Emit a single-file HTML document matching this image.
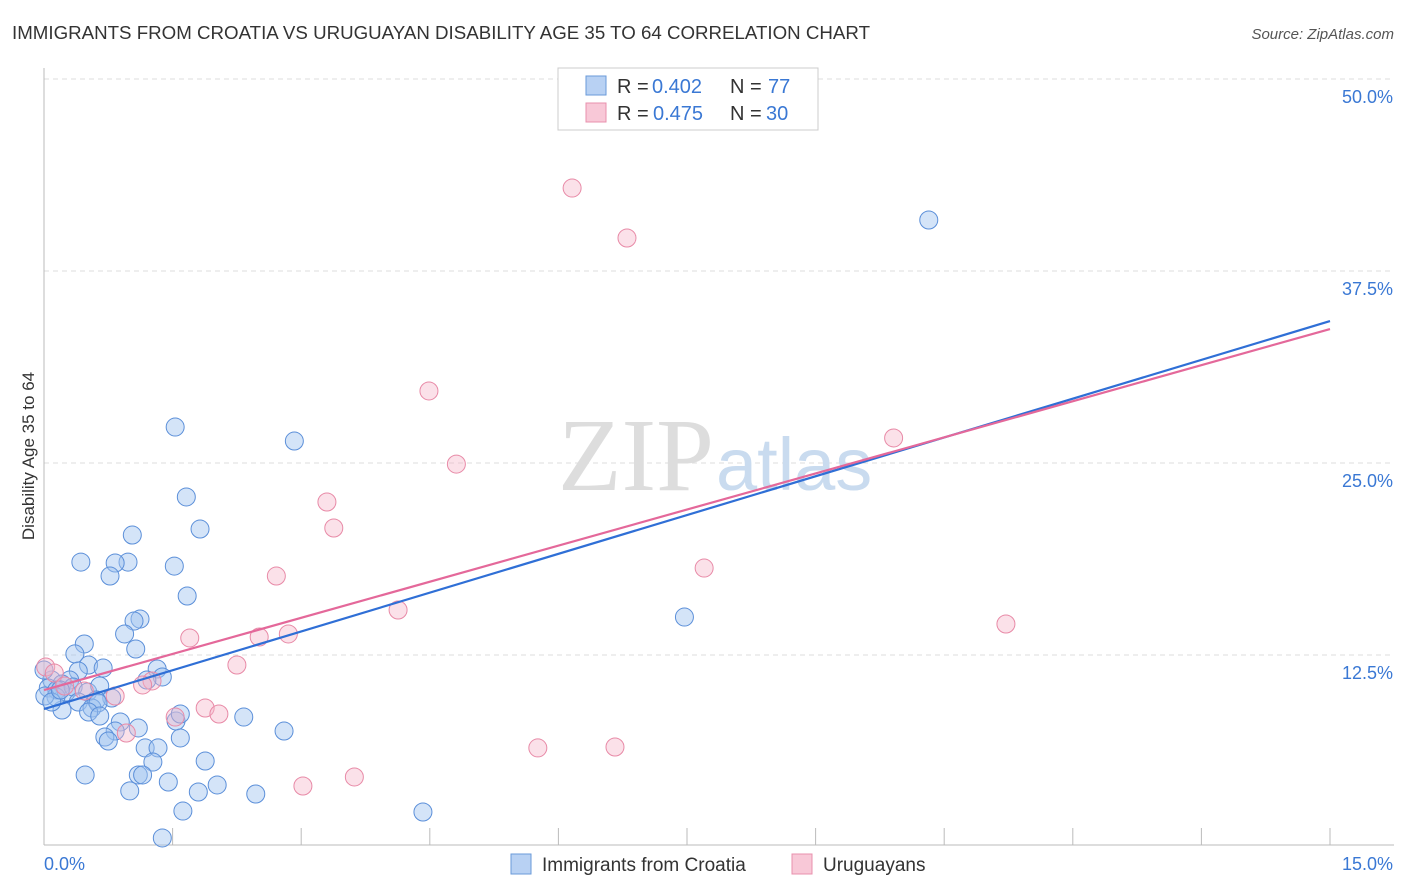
<!DOCTYPE html>
<html><head><meta charset="utf-8"><style>
body{margin:0;background:#fff;font-family:"Liberation Sans",sans-serif}
svg{display:block}
</style></head><body>
<svg width="1406" height="892" xmlns="http://www.w3.org/2000/svg">
<text x="12" y="39" font-size="18" fill="#333" textLength="858" lengthAdjust="spacingAndGlyphs">IMMIGRANTS FROM CROATIA VS URUGUAYAN DISABILITY AGE 35 TO 64 CORRELATION CHART</text>
<text x="1394" y="39" font-size="15" fill="#555" font-style="italic" text-anchor="end">Source: ZipAtlas.com</text>
<g id="grid"></g>
<text x="714" y="490" font-size="104" fill="#ddd" font-family="Liberation Serif,serif" text-anchor="end">ZIP</text>
<text x="716" y="490" font-size="74" fill="#c9dbef">atlas</text>
<text transform="translate(34,456) rotate(-90)" font-size="17" fill="#333" text-anchor="middle">Disability Age 35 to 64</text>
<g id="pts"></g>
<g id="lines"></g>
<g>
<rect x="558" y="68" width="260" height="62" fill="#fff" stroke="#ccc"/>
<rect x="586" y="76" width="20" height="19" fill="#b8d1f3" stroke="#6a9ad8"/>
<rect x="586" y="103" width="20" height="19" fill="#f8c8d7" stroke="#e890ad"/>
<text y="93" font-size="20" fill="#333"><tspan x="617">R =</tspan><tspan x="652" fill="#3a78d4">0.402</tspan><tspan x="730">N =</tspan><tspan x="768" fill="#3a78d4">77</tspan></text>
<text y="120" font-size="20" fill="#333"><tspan x="617">R =</tspan><tspan x="653" fill="#3a78d4">0.475</tspan><tspan x="730">N =</tspan><tspan x="766" fill="#3a78d4">30</tspan></text>
</g>
<g>
<rect x="511" y="854" width="20" height="20" fill="#b8d1f3" stroke="#6a9ad8"/>
<text x="542" y="871" font-size="19" fill="#333">Immigrants from Croatia</text>
<rect x="792" y="854" width="20" height="20" fill="#f8c8d7" stroke="#e890ad"/>
<text x="823" y="871" font-size="19" fill="#333">Uruguayans</text>
</g>
</svg>
<script>
const xTickVals=[0,1.5,3,4.5,6,7.5,9,10.5,12,13.5,15];
const yTickVals=[12.5,25,37.5,50];
const yTickLabels=["12.5%","25.0%","37.5%","50.0%"];
const xEndLabels=["0.0%","15.0%"];
const croatiaX=[10.32,1.53,2.92,1.66,1.82,1.03,0.43,0.98,0.83,1.52,0.77,1.67,1.12,1.05,0.94,1.07,0.47,0.36,0.52,0.40,0.69,1.32,1.38,1.20,0.30,0.09,0.21,0.05,0.15,0.26,0.34,0.51,0.65,0.79,0.61,0.40,0.56,0.63,0.21,0.52,0.65,0.89,1.10,0.83,1.54,1.59,2.33,0.71,0.75,1.59,2.80,1.18,1.33,1.88,1.27,0.48,1.10,1.15,1.45,2.02,1.00,1.80,2.47,1.62,4.42,1.38,7.47,0.14,0.01,0.09,0.19,0.0];
const croatiaY=[40.82,27.34,26.43,22.79,20.70,20.31,18.55,18.55,18.49,18.29,17.64,16.34,14.84,14.71,13.87,12.89,13.22,12.57,11.85,11.46,11.65,11.59,11.07,10.87,10.87,10.87,10.61,10.35,10.22,10.09,10.42,10.09,10.48,9.70,9.57,9.44,9.05,9.38,8.92,8.79,8.53,8.14,7.75,7.55,8.20,8.66,8.46,7.16,6.90,7.10,7.55,6.45,6.45,5.60,5.53,4.69,4.69,4.69,4.23,4.04,3.65,3.58,3.45,2.34,2.28,0.59,14.97,9.77,9.83,9.44,10.22,11.52];
const uruX=[6.16,6.80,4.49,4.81,9.91,3.30,3.38,2.71,7.70,4.13,11.22,1.70,2.51,2.85,2.25,1.26,1.15,0.83,0.47,0.02,0.12,1.88,2.04,1.53,0.96,5.76,6.66,3.62,3.02,0.24];
const uruY=[42.90,39.65,29.69,24.93,26.63,22.46,20.77,17.64,18.16,15.43,14.52,13.61,13.67,13.87,11.85,10.81,10.55,9.83,10.16,11.72,11.33,9.05,8.66,8.46,7.42,6.45,6.51,4.56,3.97,10.48];
const croatiaTrend=[8.98,34.24];
const uruTrend=[10.22,33.72];
const NS="http://www.w3.org/2000/svg";
const X=v=>44+v/15*1286;
const Y=v=>847-v/12.5*192;
function mk(t,a,p){const e=document.createElementNS(NS,t);for(const k in a)e.setAttribute(k,a[k]);p.appendChild(e);return e;}
const grid=document.getElementById('grid');
yTickVals.forEach((v,i)=>{
 const l=mk('line',{x1:44,x2:1394,y1:Y(v),y2:Y(v),stroke:'#ddd','stroke-dasharray':'5,4'},grid);
 
 
 const t=mk('text',{x:1393,y:Y(v)+24,'font-size':18,fill:'#3a78d4','text-anchor':'end'},grid);
 t.textContent=yTickLabels[i];
 
 
});
const ax=mk('line',{x1:44,x2:44,y1:68,y2:845,stroke:'#bbb'},grid);


const bx=mk('line',{x1:44,x2:1394,y1:845,y2:845,stroke:'#bbb'},grid);


xTickVals.slice(1).forEach(v=>{
 const l=mk('line',{x1:X(v),x2:X(v),y1:828,y2:845,stroke:'#bbb'},grid);
 
 
});
const t0=mk('text',{x:44,y:870,'font-size':18,fill:'#3a78d4'},grid);
t0.textContent=xEndLabels[0];


const t1=mk('text',{x:1393,y:870,'font-size':18,fill:'#3a78d4','text-anchor':'end'},grid);
t1.textContent=xEndLabels[1];


const pts=document.getElementById('pts');
croatiaX.forEach((x,i)=>{
 const c=mk('circle',{cx:X(x),cy:Y(croatiaY[i]),r:9,fill:'rgba(160,195,240,0.45)',stroke:'#5b8fd9','stroke-width':1},pts);
 
 
});
uruX.forEach((x,i)=>{
 const c=mk('circle',{cx:X(x),cy:Y(uruY[i]),r:9,fill:'rgba(245,180,200,0.4)',stroke:'#e88aa7','stroke-width':1},pts);
 
 
});
const lines=document.getElementById('lines');
const lb=mk('line',{x1:X(0),y1:Y(croatiaTrend[0]),x2:X(15),y2:Y(croatiaTrend[1]),stroke:'#2f6fd6','stroke-width':2.2},lines);


const lp=mk('line',{x1:X(0),y1:Y(uruTrend[0]),x2:X(15),y2:Y(uruTrend[1]),stroke:'#e4689a','stroke-width':2.2},lines);


</script>
</body></html>
